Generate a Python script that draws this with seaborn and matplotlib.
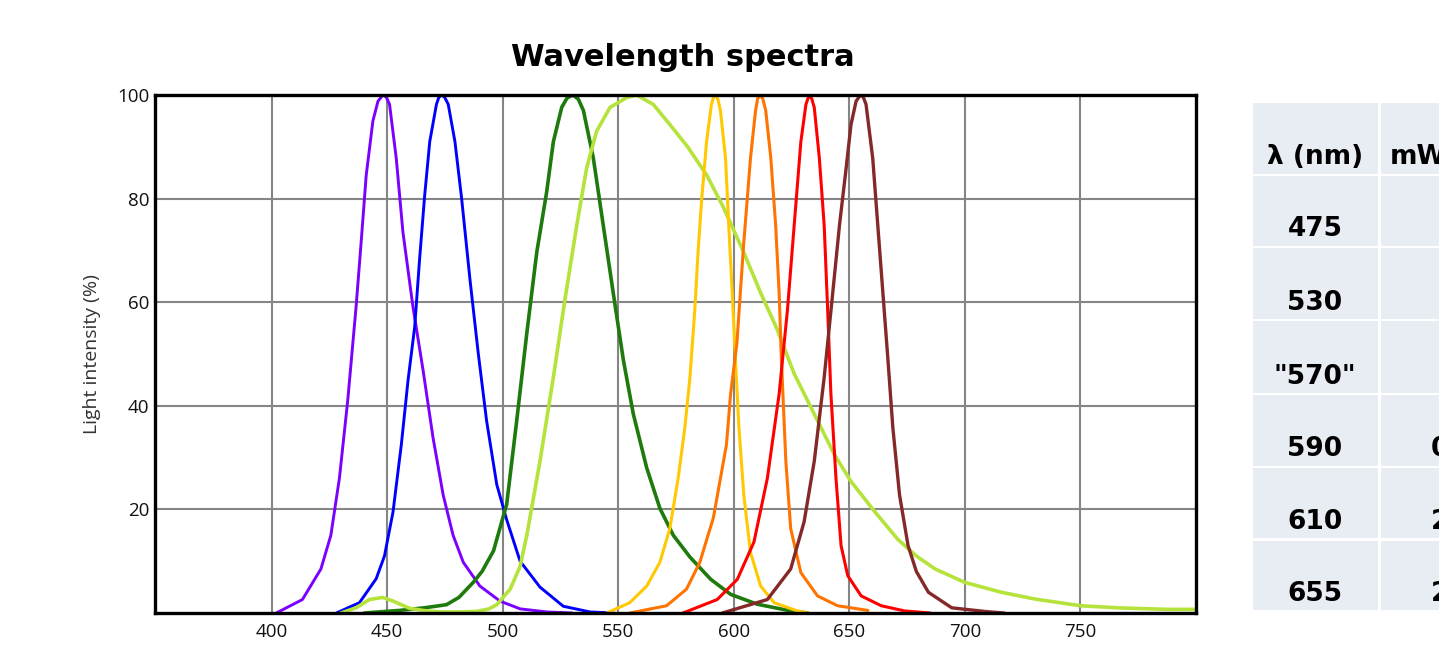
import numpy as np
import pandas as pd
import matplotlib
matplotlib.use("Agg")
import matplotlib.pyplot as plt
from matplotlib.patches import Rectangle
import seaborn as sns

# ---------------- data ----------------
violet_nm = [402, 413.3, 421.3, 425.6, 429.3, 432.9, 436.5, 438.7, 440.9, 443.8, 446, 448.1, 449.6, 451,
             453.9, 456.8, 461.1, 465.5, 469.8, 474.2, 478.5, 482.9, 490.1, 498.8, 507.5, 519, 530]
violet_pct = [0, 2.6, 8.5, 15, 26, 41, 59, 71.5, 84.5, 95, 98.8, 100, 99.6, 98.2,
              87.8, 73.5, 59.2, 46.9, 33.9, 22.8, 15, 9.8, 5.2, 2.3, 0.8, 0.2, 0]

blue_nm = [428, 438, 445.2, 448.8, 452.5, 456.1, 459, 461.9, 464, 466.2, 468.4, 471.3, 472.3, 473.5,
           474.8, 476.4, 479.3, 482.2, 485.8, 489.4, 493, 497.4, 501.7, 507.5, 516.1, 526.2, 537.8, 548]
blue_pct = [0, 2, 6.6, 11, 19.5, 32.5, 44.9, 55.3, 68.3, 80.6, 91, 98.2, 99.5, 100,
            99.6, 98.2, 91, 80, 64.4, 50.1, 37.1, 24.8, 18, 10, 5, 1.3, 0.2, 0]

green_nm = [440, 455.4, 466, 475.6, 481, 487.2, 491, 496, 501.7, 506, 510.4, 514.7, 519, 521.9, 525.5,
            527.8, 530.3, 532.7, 534.9, 539.2, 543.5, 547.8, 552.2, 556.5, 562.3, 568, 573.8, 581, 590,
            598.6, 610.1, 624.6, 632]
green_pct = [0, 0.5, 1, 1.6, 3, 5.9, 8, 12, 21, 37, 54, 69.6, 81.3, 91, 97.6,
             99.4, 100, 99.2, 97, 87.8, 74.8, 61.8, 48.8, 38.4, 28, 20.2, 15, 10.8, 6.5,
             3.6, 1.7, 0.4, 0]

ygreen_nm = [430, 436.5, 442.3, 448, 452.5, 459.7, 467, 474.2, 481, 488.7, 494, 497.4, 503.2, 507.5,
             510.4, 516.1, 521.9, 526.9, 532, 536.3, 540.6, 546.4, 553.6, 557.9, 565.1, 572.3, 580,
             588.3, 595.5, 604.3, 611.6, 618.8, 626.1, 634.8, 643.5, 650.7, 660.9, 671, 679, 687.1,
             700, 715.8, 730.2, 750, 766.1, 787.6, 800]
ygreen_pct = [0, 1, 2.6, 3, 2.3, 0.9, 0.4, 0.2, 0.2, 0.3, 0.8, 1.6, 4.6, 9,
              15, 29.3, 45.5, 60.5, 74.8, 85.9, 93, 97.6, 99.5, 100, 98.2, 94.3, 90,
              84.5, 78.3, 69.6, 61.8, 54.7, 46.2, 38.4, 30.6, 25.4, 19.6, 14.2, 11, 8.5,
              5.9, 4, 2.7, 1.4, 1, 0.7, 0.7]

yellow_nm = [545, 555, 562.3, 568, 572.3, 575.9, 578.8, 581, 583.1, 584.5, 586, 588.2, 590.3, 591.2,
             592.2, 593.2, 594.2, 596.4, 597.8, 599.3, 600.7, 602.2, 604.3, 607.2, 611.6, 617.4, 627.5, 632]
yellow_pct = [0, 2, 5.2, 9.8, 16.3, 26, 35.8, 45.5, 58.5, 69.6, 79.4, 91, 98.2, 99.6,
              100, 99, 97, 87.8, 74.8, 61.8, 48.8, 35.8, 22.8, 11.7, 5.2, 2, 0.4, 0]

orange_nm = [555, 570.9, 579.5, 585.3, 588.4, 591.1, 594.2, 596.8, 598.6, 601.3, 604.3, 607.2, 609.4,
             610.3, 611.3, 612.5, 613.8, 616, 618.1, 619.6, 620.6, 622.5, 624.6, 629, 636.2, 644.9, 655.1, 658]
orange_pct = [0, 1.4, 4.6, 9.8, 14.4, 18.3, 26, 32.5, 42.3, 52, 71.5, 87.8, 97,
              99.3, 100, 99.3, 97, 87.8, 74.8, 61.8, 48.8, 29.3, 16.3, 7.8, 3.3, 1.4, 0.7, 0.5]

red_nm = [578, 592.8, 601.5, 608.7, 614.5, 619.6, 623.2, 626.1, 629, 631.2, 632.6, 633.7, 634.8, 637,
          639.1, 640.6, 642, 644.2, 646.4, 649.3, 655.1, 663.8, 673.9, 685]
red_pct = [0, 2.6, 6.5, 13.7, 26, 42.3, 58.5, 74.8, 91, 98.2, 100, 99.3, 97.6, 87.8,
           74.8, 58.5, 42.3, 26, 13, 7.2, 3.3, 1.4, 0.4, 0]

brown_nm = [595, 614.5, 624.6, 630.4, 634.8, 639.1, 642.8, 645.7, 648.6, 650.7, 652.9, 654.8, 656, 657.2,
            660.1, 662.3, 664.5, 666.7, 668.8, 671.7, 675.4, 679, 684.2, 694.3, 708.6, 717]
brown_pct = [0, 2.6, 8.5, 17.6, 29.3, 45.5, 61.8, 74.8, 85.9, 94.3, 98.8, 100, 99.6, 98.2,
             87.8, 74.8, 61.8, 48.8, 35.8, 22.8, 13, 8, 4, 1, 0.3, 0]

x_ticks = [400, 450, 500, 550, 600, 650, 700, 750]
y_ticks = [20, 40, 60, 80, 100]

title = "Wavelength spectra"
y_label = "Light intensity (%)"

table_header = ["λ (nm)", "mW"]
table_wavelengths = ["475", "530", "\"570\"", "590", "610", "655"]
table_power = ["", "", "", "0", "2", "2"]

# ---------------- series ----------------
series = [
    ("violet", violet_nm, violet_pct, "#7B00FF", 2.1),
    ("blue", blue_nm, blue_pct, "#0000FF", 2.1),
    ("green", green_nm, green_pct, "#1E7A0C", 2.6),
    ("yellowgreen", ygreen_nm, ygreen_pct, "#B5E33B", 2.6),
    ("yellow", yellow_nm, yellow_pct, "#FFC800", 2.2),
    ("orange", orange_nm, orange_pct, "#FF7300", 2.2),
    ("red", red_nm, red_pct, "#FF0000", 2.2),
    ("brown", brown_nm, brown_pct, "#842828", 2.4),
]

sns.set_style("white")
plt.rcParams["font.family"] = ["DejaVu Sans"]

fig = plt.figure(figsize=(14.39, 6.45), dpi=100)
ax = fig.add_axes([155 / 1439, 1 - 613 / 645, (1196 - 155) / 1439, (613 - 95) / 645])

for name, xs, ys, col, lw in series:
    df = pd.DataFrame({"nm": xs, "pct": ys})
    sns.lineplot(data=df, x="nm", y="pct", ax=ax, color=col, linewidth=lw,
                 sort=False, estimator=None, legend=False, zorder=3,
                 solid_joinstyle="round", solid_capstyle="round")

ax.set_xlim(349.5, 800)
ax.set_ylim(0, 100)
ax.set_xticks(x_ticks)
ax.set_yticks(y_ticks)
ax.grid(True, color="#858585", linewidth=1.5, zorder=0)
ax.set_axisbelow(True)
for s in ax.spines.values():
    s.set_visible(True)
    s.set_color("black")
    s.set_linewidth(2.4)
    s.set_zorder(5)
ax.tick_params(axis="both", length=0, labelsize=13.5, colors="#111111")
ax.tick_params(axis="x", pad=7)
ax.tick_params(axis="y", pad=4)
for lab in ax.get_xticklabels() + ax.get_yticklabels():
    lab.set_fontfamily(["Open Sans", "DejaVu Sans"])
ax.set_xlabel("")
ax.set_ylabel(y_label, fontsize=14, color="#333333", labelpad=12,
              fontfamily=["Open Sans", "DejaVu Sans"])

fig.text(683 / 1439, 1 - 57 / 645, title, ha="center", va="center",
         fontsize=22, fontweight="bold", color="black")

# ---------------- side table ----------------
tax = fig.add_axes([0, 0, 1, 1])
tax.set_xlim(0, 1439)
tax.set_ylim(645, 0)
tax.axis("off")
cell_col = "#E8ECF3"
col_x = [(1253, 1378), (1381, 1470)]
row_y = [(102.5, 173.5), (176, 245.5), (248, 318.5), (321, 392.5), (395, 465.5), (468, 538), (541, 610)]
for (y0, y1) in row_y:
    for (x0, x1) in col_x:
        tax.add_patch(Rectangle((x0, y0), x1 - x0, y1 - y0, facecolor=cell_col, edgecolor="none"))

tfont = dict(fontsize=19, fontweight="bold", color="black")
tax.text(1315, 164, table_header[0], ha="center", va="baseline", **tfont)
tax.text(1390, 164, table_header[1], ha="left", va="baseline", **tfont)
for (y0, y1), wl, pw in zip(row_y[1:], table_wavelengths, table_power):
    tax.text(1315, y1 - 9, wl, ha="center", va="baseline", **tfont)
    if pw:
        tax.text(1431, y1 - 9, pw, ha="left", va="baseline", **tfont)

fig.savefig("out.png", dpi=100)
